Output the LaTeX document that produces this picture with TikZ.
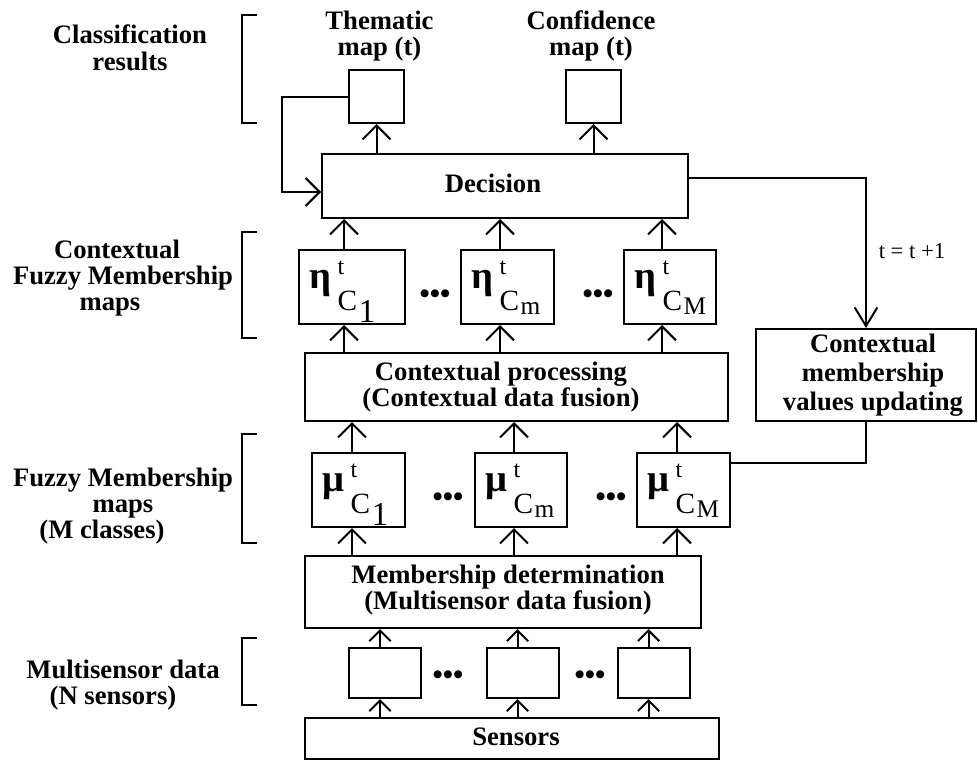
\documentclass[tikz,border=0pt]{standalone}
\usepackage{fontspec}
\setmainfont{Liberation Serif}
\usetikzlibrary{arrows.meta,calc}
\newcommand{\membsym}[4]{%
 \makebox[21pt][l]{\fontsize{29pt}{29pt}\selectfont\bfseries #1}%
 \rlap{\raisebox{10pt}{\fontsize{18pt}{18pt}\selectfont t}}%
 \raisebox{-16.5pt}{\fontsize{22pt}{22pt}\selectfont C}\kern1pt
 \raisebox{-#4}{\fontsize{#3}{#3}\selectfont #2}}
\tikzset{
 box/.style={draw, line width=1.5pt, inner sep=0pt},
 membbox/.style={draw, line width=1.5pt, inner xsep=8pt, inner ysep=0pt,
   text height=28.5pt, text depth=27pt, align=left, anchor=north west},
 lbl/.style={font=\bfseries\fontsize{20pt}{19.5pt}\selectfont, inner sep=0pt, align=center, anchor=base},
 dots/.style={font=\bfseries\fontsize{22pt}{22pt}\selectfont, inner sep=0pt},
 conn/.style={line width=1.5pt},
 arr/.style={line width=1.5pt, -{Straight Barb[length=10.5pt,width=21pt,line width=1.5pt]}},
 arrs/.style={line width=1.5pt, -{Straight Barb[length=8pt,width=16pt,line width=1.5pt]}},
 arrl/.style={line width=1.5pt, -{Straight Barb[length=14pt,width=17pt,line width=1.5pt]}},
 brk/.style={line width=1.5pt}
}
\begin{document}
\begin{tikzpicture}[x=0.75pt,y=-0.75pt]
\useasboundingbox (0,0) rectangle (978,760);

% boxes
\node[box, minimum width=41.25pt, minimum height=39.75pt] (them) at (376.5,96.5) {};
\node[box, minimum width=41.25pt, minimum height=39.75pt] (conf) at (593.5,96.5) {};
\node[box, minimum width=274.5pt, minimum height=48pt] (dec) at (505,186) {};
\node[membbox, text width=63.5pt] (e1) at (298,249) {\membsym{η}{1}{25pt}{25.5pt}};
\node[membbox, text width=53.75pt] (e2) at (460,249) {\membsym{η}{m}{19pt}{19.5pt}};
\node[membbox, text width=53.25pt] (e3) at (623,249) {\membsym{η}{M}{19pt}{19.5pt}};
\node[box, minimum width=317.25pt, minimum height=51pt] (ctx) at (516.5,387) {};
\node[box, minimum width=165pt, minimum height=69pt] (upd) at (866,375) {};
\node[membbox, text width=53.75pt] (m1) at (311,452) {\membsym{μ}{1}{25pt}{25.5pt}};
\node[membbox, text width=53pt] (m2) at (474,452) {\membsym{μ}{m}{19pt}{19.5pt}};
\node[membbox, text width=53.75pt] (m3) at (636,452) {\membsym{μ}{M}{19pt}{19.5pt}};
\node[box, minimum width=297pt, minimum height=54pt] (memb) at (503,592) {};
\node[box, minimum width=54pt, minimum height=37.5pt] (s1) at (385,673) {};
\node[box, minimum width=54pt, minimum height=37.5pt] (s2) at (522.5,673) {};
\node[box, minimum width=54pt, minimum height=37.5pt] (s3) at (653.5,673) {};
\node[box, minimum width=310.5pt, minimum height=30.75pt] (sens) at (512,738.5) {};

% texts in boxes (base = baseline of last line)
\node[lbl] (tdec) at (493,192) {Decision};
\node[lbl] (tctx) at (501,406) {Contextual processing\\(Contextual data fusion)};
\node[lbl] (tmemb) at (508,609) {Membership determination\\(Multisensor data fusion)};
\node[lbl] (tsens) at (516,745) {Sensors};
\node[lbl, font=\bfseries\fontsize{20pt}{21.4pt}\selectfont] (tupd) at (873,410) {Contextual\\membership\\values updating};
\node[inner sep=0pt, anchor=base, font=\fontsize{17pt}{17pt}\selectfont] (tinc) at (912,258) {t = t +1};

% titles
\node[lbl] (tt1) at (379.5,55) {Thematic\\map (t)};
\node[lbl] (tt2) at (591,55) {Confidence\\map (t)};

% left labels
\node[lbl, font=\bfseries\fontsize{20pt}{20pt}\selectfont] (l1) at (130,70) {Classification\\results};
\node[lbl] (l2) at (123,310) {Contextual\hspace*{9pt}\\Fuzzy Membership\\maps\hspace*{19.5pt}};
\node[lbl] (l3) at (123,538) {Fuzzy Membership\\maps\hspace*{21pt}\\(M classes)\hspace*{31.5pt}};
\node[lbl] (l4) at (123,704) {Multisensor data\\(N sensors)\hspace*{15pt}};

% brackets
\draw[brk] (257,15) -- (242,15) -- (242,123) -- (257,123);
\draw[brk] (257,232) -- (242,232) -- (242,338) -- (257,338);
\draw[brk] (257,434) -- (242,434) -- (242,543) -- (257,543);
\draw[brk] (257,638) -- (242,638) -- (242,705) -- (257,705);

% dots
\node[dots] (d1) at (435,297) {•••};
\node[dots] (d2) at (598,297) {•••};
\node[dots] (d3) at (448,500) {•••};
\node[dots] (d4) at (611,500) {•••};
\node[dots] (d5) at (448,678) {•••};
\node[dots] (d6) at (590,678) {•••};

% arrow columns
\coordinate (a1) at ([xshift=-3.75pt]s1.south);
\coordinate (a2) at ([xshift=-3.75pt]s2.south);
\coordinate (a3) at ([xshift=-3.75pt]s3.south);
\foreach \c/\s in {a1/s1,a2/s2,a3/s3}{
  \draw[arrs] (\c |- sens.north) -- (\c |- \s.south);
  \draw[arrs] (\c |- \s.north) -- (\c |- memb.south);
}
\coordinate (b1) at (352,0);
\coordinate (b2) at (514,0);
\coordinate (b3) at (677,0);
\foreach \c/\s in {b1/m1,b2/m2,b3/m3}{
  \draw[arr] (\c |- memb.north) -- (\c |- \s.south);
  \draw[arr] (\c |- \s.north) -- (\c |- ctx.south);
}
\coordinate (c1) at (344,0);
\coordinate (c2) at (500,0);
\coordinate (c3) at (662,0);
\foreach \c/\s in {c1/e1,c2/e2,c3/e3}{
  \draw[arr] (\c |- ctx.north) -- (\c |- \s.south);
  \draw[arr] (\c |- \s.north) -- (\c |- dec.south);
}
\draw[arr] (them.south |- dec.north) -- (them.south);
\draw[arr] (conf.south |- dec.north) -- (conf.south);

% feedback loop
\coordinate (fb) at (282,192);
\draw[arr] (them.west) -| (fb) -- (fb -| dec.west);

% decision -> update
\coordinate (dr) at ([yshift=6pt]dec.east);
\draw[arrl] (dr) -| (upd.north);

% update -> mu_M
\coordinate (mr) at ([yshift=20.25pt]m3.east);
\draw[conn] (upd.south) |- (mr);
\end{tikzpicture}
\end{document}
